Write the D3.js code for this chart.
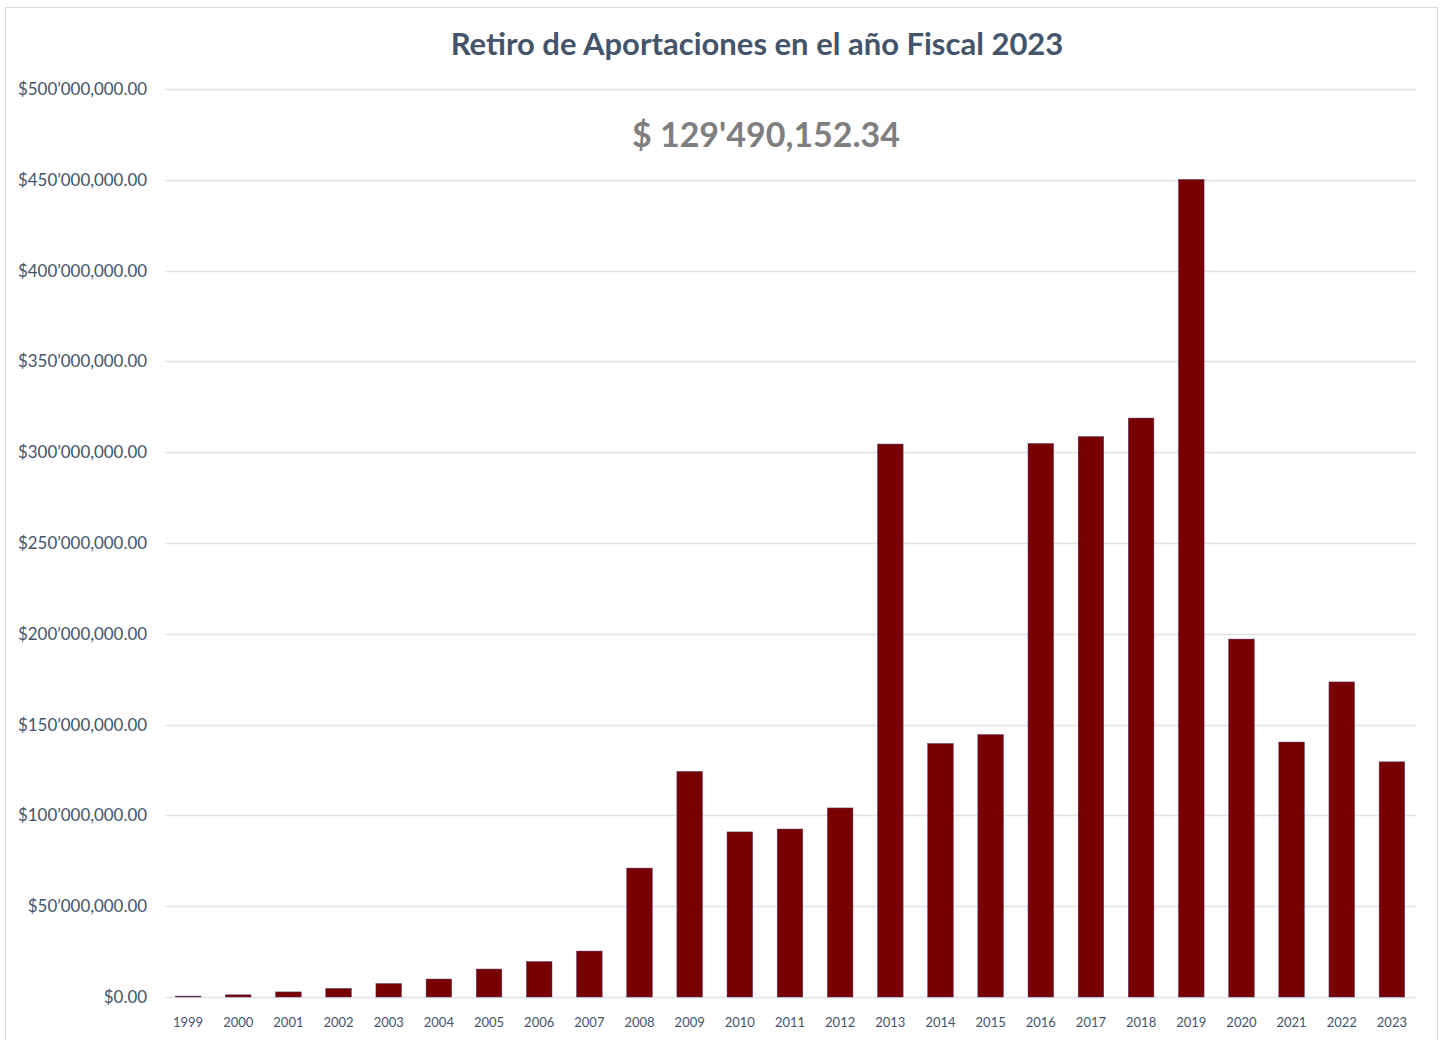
<!DOCTYPE html>
<html>
<head>
<meta charset="utf-8">
<script src="https://cdn.jsdelivr.net/npm/d3@7"></script>
<style>
  body { margin: 0; background: #fff; }
  svg { display: block; font-family: Lato, "Open Sans", sans-serif; }
</style>
</head>
<body>
<script>
const years = ["1999","2000","2001","2002","2003","2004","2005","2006","2007","2008",
  "2009","2010","2011","2012","2013","2014","2015","2016","2017","2018",
  "2019","2020","2021","2022","2023"];
// retiros en millones de pesos
const retiros = [0.5, 1.2, 2.8, 4.7, 7.4, 9.9, 15.4, 19.5, 25.3, 71.0,
  124.2, 90.9, 92.5, 104.1, 304.5, 139.6, 144.5, 304.8, 308.6, 318.8,
  450.2, 197.1, 140.4, 173.5, 129.49];
const yTicks = [0, 50, 100, 150, 200, 250, 300, 350, 400, 450, 500];
const title = "Retiro de Aportaciones en el año Fiscal 2023";
const total = "$ 129'490,152.34";

const W = 1443, H = 1040;
const margin = {top: 89, right: 27, bottom: 43, left: 165};

const svg = d3.select("body").append("svg")
  .attr("width", W)
  .attr("height", H);

// marco del grafico
svg.append("rect")
  .attr("x", 5.5).attr("y", 7.5)
  .attr("width", 1432).attr("height", 1040)
  .attr("fill", "#fff")
  .attr("stroke", "#D9D9D9");

const x = d3.scaleBand()
  .domain(years)
  .range([margin.left - 2, W - margin.right + 1])
  .paddingInner(0.49)
  .paddingOuter(0.245);

const y = d3.scaleLinear()
  .domain([0, 500])
  .range([H - margin.bottom, margin.top]);

function fmtMoney(m) {
  if (m === 0) return "$0.00";
  const s = d3.format(",")(m * 1e6); // 500,000,000
  const parts = s.split(",");
  // primer separador (millones) con apostrofe
  return "$" + parts[0] + "\u2019" + parts.slice(1).join(",") + ".00";
}

// grid
svg.append("g")
  .selectAll("line")
  .data(yTicks)
  .enter().append("line")
  .attr("x1", margin.left)
  .attr("x2", W - margin.right)
  .attr("y1", d => Math.round(y(d)) + 0.5)
  .attr("y2", d => Math.round(y(d)) + 0.5)
  .attr("stroke", "#DDE2EA")
  .attr("stroke-width", 1.3);

// eje y
svg.append("g")
  .selectAll("text")
  .data(yTicks)
  .enter().append("text")
  .attr("x", 147)
  .attr("y", d => y(d) + 6)
  .attr("text-anchor", "end")
  .attr("fill", "#44546A")
  .style("font-size", "16.9px")
  .text(d => fmtMoney(d));

// barras
svg.append("g")
  .selectAll("rect")
  .data(retiros)
  .enter().append("rect")
  .attr("x", (d, i) => x(years[i]))
  .attr("y", d => y(d))
  .attr("width", x.bandwidth())
  .attr("height", d => y(0) - y(d))
  .attr("fill", "#780000")
  .attr("stroke", "#5a3a70")
  .attr("stroke-width", 0.5);

// eje x
svg.append("g")
  .selectAll("text")
  .data(years)
  .enter().append("text")
  .attr("x", d => x(d) + x.bandwidth() / 2)
  .attr("y", 1027)
  .attr("text-anchor", "middle")
  .attr("fill", "#44546A")
  .style("font-size", "13px")
  .text(d => d);

// titulo
svg.append("text")
  .attr("x", 757)
  .attr("y", 55)
  .attr("text-anchor", "middle")
  .attr("fill", "#44546A")
  .style("font-size", "31px")
  .style("font-weight", "bold")
  .text(title);

// total
svg.append("text")
  .attr("x", 766)
  .attr("y", 147)
  .attr("text-anchor", "middle")
  .attr("fill", "#7F7F7F")
  .style("font-size", "34px")
  .style("font-weight", "bold")
  .text(total);
</script>
</body>
</html>
